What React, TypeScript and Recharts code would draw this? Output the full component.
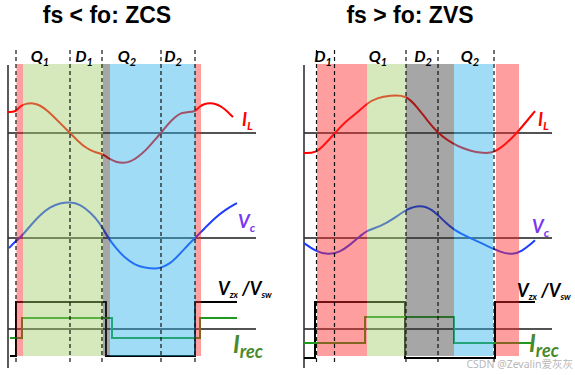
import React from "react";
import {
  ComposedChart,
  Line,
  XAxis,
  YAxis,
  ReferenceArea,
  ReferenceLine,
  ReferenceDot,
} from "recharts";

type Pt = { t: number; v: number };
type Band = { from: number; to: number; kind: "pink" | "green" | "gray" | "blue" };
type Phase = { t: number; name: string; sub: string };

// ---------- fs < fo : ZCS ----------
const zcsIL: Pt[] = [
  { t: 0, v: 0.7 }, { t: 8, v: 0.7 }, { t: 12, v: 0.9 }, { t: 18, v: 0.98 }, { t: 25, v: 1.0 },
  { t: 32, v: 0.93 }, { t: 40, v: 0.73 }, { t: 47, v: 0.5 }, { t: 54, v: 0.27 }, { t: 62, v: 0 },
  { t: 70, v: -0.27 }, { t: 78, v: -0.5 }, { t: 86, v: -0.63 }, { t: 94, v: -0.7 }, { t: 98, v: -0.78 },
  { t: 102, v: -0.87 }, { t: 108, v: -0.97 }, { t: 115, v: -1.0 }, { t: 122, v: -0.97 }, { t: 130, v: -0.8 },
  { t: 138, v: -0.57 }, { t: 145, v: -0.3 }, { t: 153, v: 0 }, { t: 160, v: 0.3 }, { t: 167, v: 0.53 },
  { t: 173, v: 0.67 }, { t: 179, v: 0.7 }, { t: 187, v: 0.7 }, { t: 191, v: 0.87 }, { t: 196, v: 0.97 },
  { t: 202, v: 1.0 }, { t: 208, v: 0.97 }, { t: 214, v: 0.87 }, { t: 220, v: 0.7 }, { t: 225, v: 0.53 },
];
const zcsVc: Pt[] = [
  { t: 1, v: -0.28 }, { t: 8, v: -0.08 }, { t: 12, v: 0 }, { t: 22, v: 0.33 }, { t: 32, v: 0.64 },
  { t: 42, v: 0.86 }, { t: 52, v: 0.97 }, { t: 62, v: 1.0 }, { t: 72, v: 0.94 }, { t: 82, v: 0.72 },
  { t: 92, v: 0.42 }, { t: 100, v: 0 }, { t: 108, v: -0.28 }, { t: 117, v: -0.56 }, { t: 127, v: -0.75 },
  { t: 137, v: -0.83 }, { t: 147, v: -0.86 }, { t: 153, v: -0.83 }, { t: 162, v: -0.72 }, { t: 172, v: -0.44 },
  { t: 180, v: -0.19 }, { t: 187, v: 0 }, { t: 197, v: 0.28 }, { t: 207, v: 0.56 }, { t: 217, v: 0.78 },
  { t: 229, v: 0.97 },
];
const zcsVzx: Pt[] = [
  { t: 2, v: -1 }, { t: 8, v: -1 }, { t: 8, v: 1 }, { t: 98, v: 1 }, { t: 98, v: -1 },
  { t: 187, v: -1 }, { t: 187, v: 1 }, { t: 229, v: 1 },
];
const zcsIrec: Pt[] = [
  { t: 2, v: -0.33 }, { t: 14, v: -0.33 }, { t: 14, v: 0.41 }, { t: 104, v: 0.41 }, { t: 104, v: -0.33 },
  { t: 192, v: -0.33 }, { t: 192, v: 0.41 }, { t: 229, v: 0.41 },
];
const zcsDashed = [8, 62, 94, 153, 187];
const zcsBands: Band[] = [
  { from: 8.5, to: 15, kind: "pink" },
  { from: 15, to: 95, kind: "green" },
  { from: 95, to: 102, kind: "gray" },
  { from: 102, to: 187, kind: "blue" },
  { from: 187, to: 193, kind: "pink" },
];
const zcsPhases: Phase[] = [
  { t: 32, name: "Q", sub: "1" },
  { t: 76, name: "D", sub: "1" },
  { t: 119, name: "Q", sub: "2" },
  { t: 165, name: "D", sub: "2" },
];

// ---------- fs > fo : ZVS ----------
const zvsIL: Pt[] = [
  { t: 0, v: -0.67 }, { t: 12, v: -0.67 }, { t: 21, v: -0.37 }, { t: 31, v: 0 }, { t: 41, v: 0.37 },
  { t: 53, v: 0.67 }, { t: 63, v: 0.99 }, { t: 73, v: 1.17 }, { t: 86, v: 1.25 }, { t: 102, v: 1.27 },
  { t: 113, v: 0.87 }, { t: 123, v: 0.43 }, { t: 134, v: 0 }, { t: 143, v: -0.23 }, { t: 153, v: -0.43 },
  { t: 166, v: -0.6 }, { t: 179, v: -0.67 }, { t: 190, v: -0.67 }, { t: 203, v: -0.33 }, { t: 213, v: 0 },
  { t: 231, v: 0.73 },
];
const zvsVc: Pt[] = [
  { t: 0, v: -0.14 }, { t: 11, v: -0.36 }, { t: 24, v: -0.47 }, { t: 36, v: -0.39 }, { t: 46, v: -0.19 },
  { t: 54, v: 0 }, { t: 63, v: 0.22 }, { t: 76, v: 0.31 }, { t: 91, v: 0.56 }, { t: 103, v: 0.81 },
  { t: 116, v: 0.92 }, { t: 128, v: 0.81 }, { t: 141, v: 0.44 }, { t: 150, v: 0.22 }, { t: 166, v: 0 },
  { t: 181, v: -0.19 }, { t: 196, v: -0.39 }, { t: 209, v: -0.47 }, { t: 218, v: -0.36 }, { t: 226, v: -0.19 },
  { t: 231, v: -0.06 },
];
const zvsVzx: Pt[] = [
  { t: 0, v: -1.07 }, { t: 11, v: -1.07 }, { t: 11, v: 1 }, { t: 101, v: 1 }, { t: 101, v: -1.07 },
  { t: 191, v: -1.07 }, { t: 191, v: 1 }, { t: 231, v: 1 },
];
const zvsIrec: Pt[] = [
  { t: 0, v: -0.52 }, { t: 61, v: -0.52 }, { t: 61, v: 0.44 }, { t: 150, v: 0.44 }, { t: 150, v: -0.52 },
  { t: 228, v: -0.52 },
];
const zvsDashed = [12.5, 30.5, 102, 134, 190];
const zvsBands: Band[] = [
  { from: 13, to: 63, kind: "pink" },
  { from: 63, to: 102, kind: "green" },
  { from: 102, to: 150, kind: "gray" },
  { from: 150, to: 189, kind: "blue" },
  { from: 192, to: 215, kind: "pink" },
];
const zvsPhases: Phase[] = [
  { t: 19, name: "D", sub: "1" },
  { t: 74, name: "Q", sub: "1" },
  { t: 119, name: "D", sub: "2" },
  { t: 166, name: "Q", sub: "2" },
];

const bandFill: Record<Band["kind"], string> = {
  pink: "#ff2828",
  green: "#a2cf6d",
  gray: "#3a3a3a",
  blue: "#2cb2e9",
};

const LABEL_FONT = "Lato, 'Open Sans', 'DejaVu Sans', sans-serif";

type PanelProps = {
  left: number;
  width: number;
  marginLeft: number;
  marginRight: number;
  title: string;
  titleT: number;
  il: Pt[];
  vc: Pt[];
  vzx: Pt[];
  irec: Pt[];
  dashed: number[];
  bands: Band[];
  phases: Phase[];
  ilLabel: [number, number];
  vcLabel: [number, number];
  vzxLabel: [number, number];
  irecLabel: [number, number];
  watermark?: [number, number];
};

const Panel = (p: PanelProps) => {
  const txt = (t: number, y: number, render: (cx: number, cy: number) => React.ReactElement, key: string) => (
    <ReferenceDot
      key={key}
      x={t}
      y={y}
      yAxisId="frame"
      r={0}
      ifOverflow="visible"
      zIndex={2000}
      shape={(sp: any) => render(sp.cx, sp.cy)}
    />
  );
  return (
    <div style={{ position: "absolute", left: p.left, top: 0 }}>
      <ComposedChart
        width={p.width}
        height={375}
        margin={{ top: 0, right: p.marginRight, bottom: 5, left: p.marginLeft }}
      >
        <XAxis xAxisId={0} type="number" dataKey="t" domain={[0, 248]} allowDataOverflow hide />
        <YAxis yAxisId="il" type="number" domain={[-7.9, 4.4333]} allowDataOverflow hide />
        <YAxis yAxisId="vc" type="number" domain={[-3.6667, 6.6111]} allowDataOverflow hide />
        <YAxis yAxisId="sq" type="number" domain={[-1.5185, 12.1852]} allowDataOverflow hide />
        <YAxis yAxisId="frame" type="number" domain={[0, 370]} reversed allowDataOverflow hide />

        <ReferenceLine yAxisId="il" y={0} stroke="#1a1a1a" strokeWidth={1.4} zIndex={300} />
        <ReferenceLine yAxisId="vc" y={0} stroke="#1a1a1a" strokeWidth={1.4} zIndex={300} />
        <ReferenceLine yAxisId="sq" y={0} stroke="#1a1a1a" strokeWidth={1.4} zIndex={300} />
        <ReferenceLine
          yAxisId="frame"
          segment={[{ x: 0, y: 65 }, { x: 0, y: 368 }]}
          stroke="#333"
          strokeWidth={1.6}
          zIndex={300}
        />

        <Line yAxisId="sq" data={p.vzx} dataKey="v" type="linear" stroke="#000" strokeWidth={2} dot={false} activeDot={false} isAnimationActive={false} zIndex={400} />
        <Line yAxisId="sq" data={p.irec} dataKey="v" type="linear" stroke="#1f9a1f" strokeWidth={2} dot={false} activeDot={false} isAnimationActive={false} zIndex={400} />
        <Line yAxisId="il" data={p.il} dataKey="v" type="basis" stroke="#ff0000" strokeWidth={2} dot={false} activeDot={false} isAnimationActive={false} zIndex={400} />
        <Line yAxisId="vc" data={p.vc} dataKey="v" type="basis" stroke="#1e3cff" strokeWidth={2} dot={false} activeDot={false} isAnimationActive={false} zIndex={400} />

        {p.bands.map((b, i) => (
          <ReferenceArea
            key={"b" + i}
            yAxisId="frame"
            x1={b.from}
            x2={b.to}
            y1={64}
            y2={356}
            fill={bandFill[b.kind]}
            fillOpacity={0.45}
            stroke="none"
            ifOverflow="visible"
            zIndex={450}
          />
        ))}

        {p.dashed.map((t, i) => (
          <ReferenceLine
            key={"d" + i}
            yAxisId="frame"
            segment={[{ x: t, y: 50 }, { x: t, y: 362 }]}
            stroke="#111"
            strokeWidth={1.2}
            strokeDasharray="4 3"
            ifOverflow="visible"
            zIndex={500}
          />
        ))}

        {txt(p.titleT, 23, (cx, cy) => (
          <text x={cx} y={cy} textAnchor="middle" fontFamily="'Liberation Sans', Arial, sans-serif" fontWeight="bold" fontSize={23} fill="#000">
            {p.title}
          </text>
        ), "title")}

        {p.phases.map((ph, i) =>
          txt(ph.t, 62, (cx, cy) => (
            <text x={cx} y={cy} textAnchor="middle" fontFamily={LABEL_FONT} fontWeight="bold" fontStyle="italic" fontSize={16} fill="#000">
              {ph.name}
              <tspan fontSize={11} dy={4}>{ph.sub}</tspan>
            </text>
          ), "ph" + i)
        )}

        {txt(p.ilLabel[0], p.ilLabel[1], (cx, cy) => (
          <text x={cx} y={cy} fontFamily={LABEL_FONT} fontWeight="bold" fontStyle="italic" fontSize={18} fill="#ff0000">
            I<tspan fontSize={12} dy={4}>L</tspan>
          </text>
        ), "il")}

        {txt(p.vcLabel[0], p.vcLabel[1], (cx, cy) => (
          <text x={cx} y={cy} fontFamily={LABEL_FONT} fontWeight="bold" fontStyle="italic" fontSize={18} fill="#7a36f0">
            V<tspan fontSize={12} dy={4}>c</tspan>
          </text>
        ), "vc")}

        {txt(p.vzxLabel[0], p.vzxLabel[1], (cx, cy) => (
          <text x={cx} y={cy} fontFamily={LABEL_FONT} fontWeight="bold" fontStyle="italic" fontSize={18} fill="#000">
            V<tspan fontSize={9} dy={3}>zx</tspan>
            <tspan fontSize={18} dy={-3}> /V</tspan>
            <tspan fontSize={9} dy={3}>sw</tspan>
          </text>
        ), "vzx")}

        {txt(p.irecLabel[0], p.irecLabel[1], (cx, cy) => (
          <text x={cx} y={cy} fontFamily={LABEL_FONT} fontWeight="bold" fontStyle="italic" fontSize={24} fill="#4a8a2c">
            I<tspan fontSize={18} dy={5}>rec</tspan>
          </text>
        ), "irec")}

        {p.watermark &&
          txt(p.watermark[0], p.watermark[1], (cx, cy) => (
            <text x={cx} y={cy} textAnchor="end" fontFamily="'Noto Sans', 'Noto Sans CJK SC', sans-serif" fontSize={10.5} fill="#b8b8b8">
              CSDN @Zevalin爱灰灰
            </text>
          ), "wm")}
      </ComposedChart>
    </div>
  );
};

export default function App() {
  return (
    <div style={{ position: "absolute", left: 0, top: 0, width: 575, height: 375, background: "#fff", overflow: "hidden" }}>
      <Panel
        left={0}
        width={290}
        marginLeft={8}
        marginRight={34}
        title="fs < fo: ZCS"
        titleT={99}
        il={zcsIL}
        vc={zcsVc}
        vzx={zcsVzx}
        irec={zcsIrec}
        dashed={zcsDashed}
        bands={zcsBands}
        phases={zcsPhases}
        ilLabel={[234, 126]}
        vcLabel={[230, 228]}
        vzxLabel={[210, 295]}
        irecLabel={[225, 353]}
      />
      <Panel
        left={290}
        width={285}
        marginLeft={14}
        marginRight={23}
        title="fs > fo: ZVS"
        titleT={106}
        il={zvsIL}
        vc={zvsVc}
        vzx={zvsVzx}
        irec={zvsIrec}
        dashed={zvsDashed}
        bands={zvsBands}
        phases={zvsPhases}
        ilLabel={[234, 126]}
        vcLabel={[228, 233]}
        vzxLabel={[213, 297]}
        irecLabel={[225, 352]}
        watermark={[269, 368]}
      />
    </div>
  );
}
